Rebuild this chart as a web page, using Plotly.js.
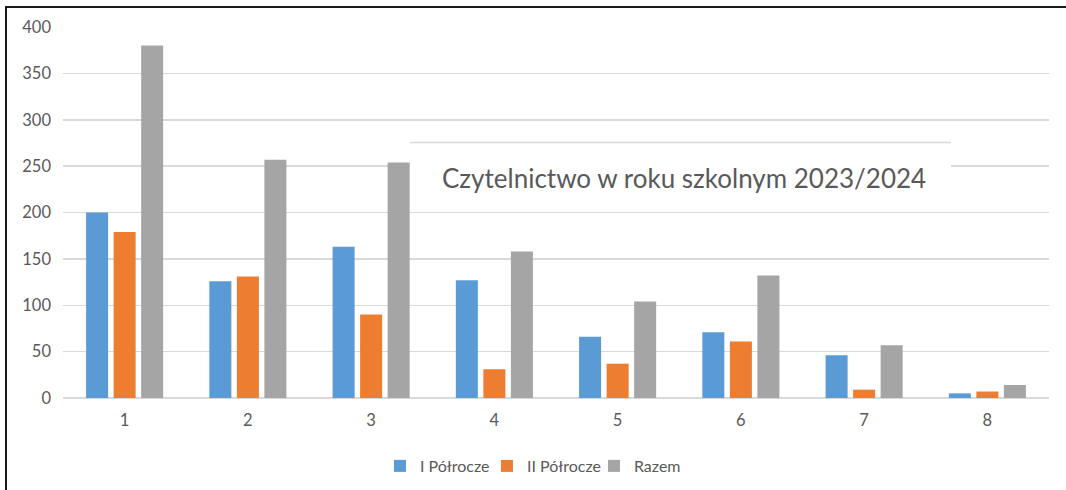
<!DOCTYPE html>
<html>
<head>
<meta charset="utf-8">
<script src="https://cdn.plot.ly/plotly-3.0.1.min.js"></script>
<style>
  html, body { margin: 0; padding: 0; background: #fff; }
  #wrap { position: relative; width: 1066px; height: 490px; overflow: hidden; }
  #frame { position: absolute; left: 5px; top: 6px; width: 1200px; height: 600px;
           border-top: 2px solid #1a1a1a; border-left: 2px solid #1a1a1a; pointer-events: none; z-index: 5; }
  #chart { position: absolute; left: 0; top: 0; width: 1066px; height: 490px; }
</style>
</head>
<body>
<div id="wrap">
  <div id="chart"></div>
  <div id="frame"></div>
</div>
<script>
const categories = ['1', '2', '3', '4', '5', '6', '7', '8'];
const seriesNames = ['I Półrocze', 'II Półrocze', 'Razem'];
const polrocze1 = [200, 126, 163, 127, 66, 71, 46, 5];
const polrocze2 = [179, 131, 90, 31, 37, 61, 9, 7];
const razem = [380, 257, 254, 158, 104, 132, 57, 14];
const colors = ['#5b9bd5', '#ed7d31', '#a5a5a5'];
const titleText = 'Czytelnictwo w roku szkolnym 2023/2024';

const FONT = 'Lato, "Open Sans", sans-serif';
const values = [polrocze1, polrocze2, razem];
const traces = values.map((v, i) => ({
  type: 'bar',
  name: seriesNames[i],
  x: categories,
  y: v,
  marker: { color: colors[i], line: { width: 0 } },
  hoverinfo: 'x+y+name'
}));

const layout = {
  width: 1066, height: 490,
  margin: { l: 63, r: 17, t: 26.5, b: 92, pad: 0, autoexpand: false },
  paper_bgcolor: '#ffffff', plot_bgcolor: '#ffffff',
  font: { family: FONT, color: '#595959', size: 16.5 },
  barmode: 'group', bargap: 0.33, bargroupgap: 0.2,
  showlegend: true,
  legend: { orientation: 'h', xref: 'container', yref: 'container', x: 0.507, xanchor: 'center',
            y: 0.049, yanchor: 'middle', font: { size: 16, color: '#595959' },
            itemwidth: 30, entrywidth: 62, entrywidthmode: 'pixels', traceorder: 'normal' },
  xaxis: { type: 'category', showgrid: false, showline: false, zeroline: false,
           ticks: '', tickfont: { size: 16.5, color: '#595959' }, ticklabelstandoff: 10 },
  yaxis: { range: [0, 400], dtick: 50, showgrid: true, gridcolor: '#d9d9d9', gridwidth: 1.5,
           zeroline: true, zerolinecolor: '#d9d9d9', zerolinewidth: 1.5, showline: false,
           ticks: '', tickfont: { size: 16.5, color: '#595959' }, ticklabelstandoff: 11 },
  shapes: [
    { type: 'rect', xref: 'paper', yref: 'y', x0: 0.352, x1: 0.9006, y0: 212, y1: 275.6,
      fillcolor: '#ffffff', line: { width: 0 }, layer: 'above' },
    { type: 'line', xref: 'paper', yref: 'y', x0: 0.352, x1: 0.9006, y0: 275.6, y1: 275.6,
      line: { color: '#d9d9d9', width: 1.5 }, layer: 'above' }
  ],
  annotations: [
    { text: titleText, xref: 'paper', yref: 'y', x: 0.6296, y: 237, xanchor: 'center', yanchor: 'middle',
      showarrow: false, font: { family: FONT, size: 26, color: '#595959' } }
  ]
};

Plotly.newPlot('chart', traces, layout, { staticPlot: true, displayModeBar: false });
</script>
</body>
</html>
